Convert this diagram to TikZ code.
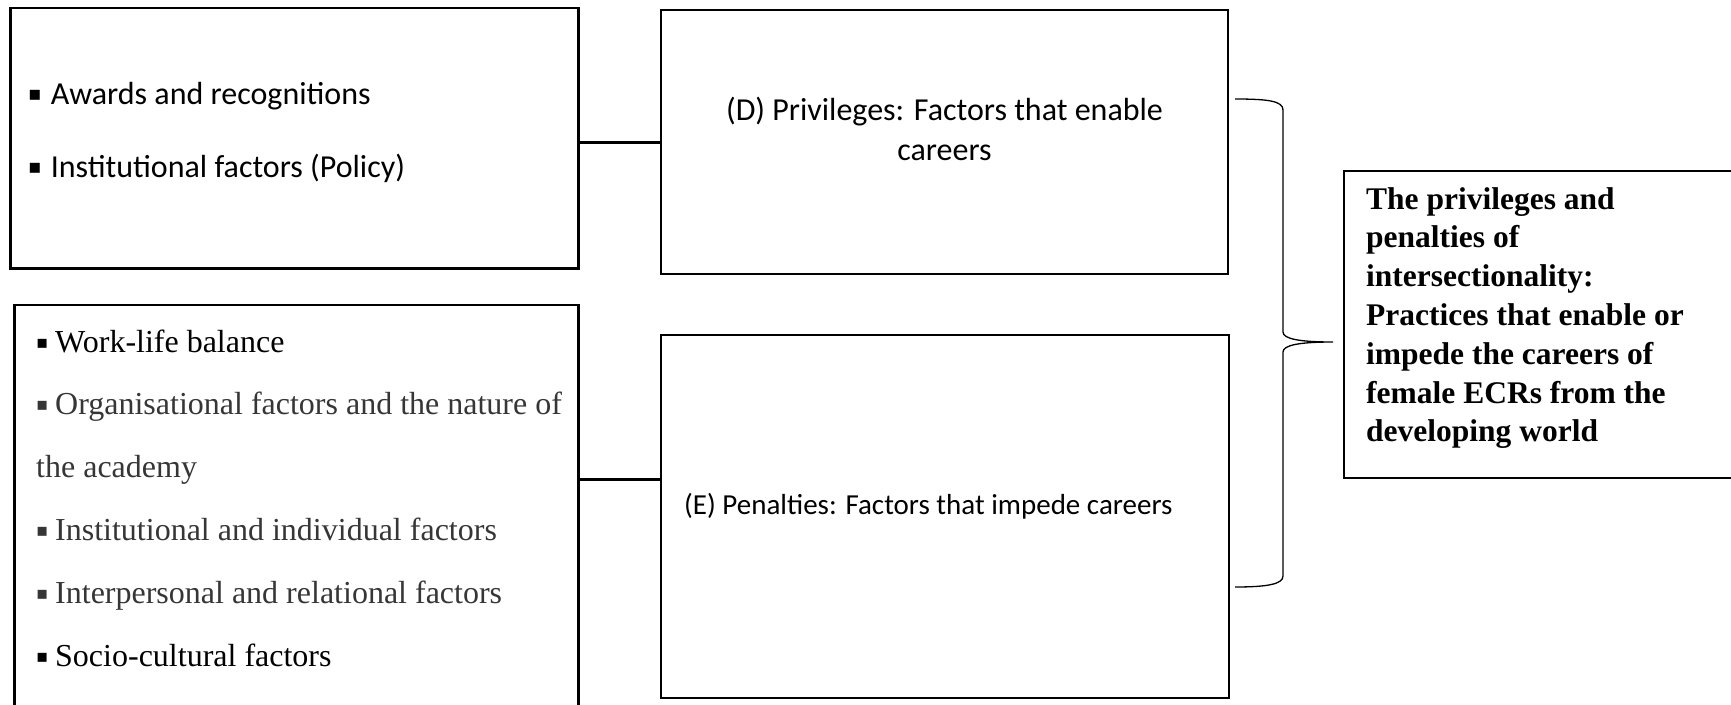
\documentclass[tikz,border=0pt]{standalone}
\usepackage{fontspec}
\setmainfont{Liberation Serif}
\newfontfamily\calfont{Carlito}
\newfontfamily\bulfont{DejaVu Sans}
\definecolor{txtgray}{HTML}{363636}
% square list marker: #1 = glyph size, #2 = room taken before the item text
\newcommand\sqbul[2]{\makebox[#2][l]{\raisebox{0.12em}{\bulfont\fontsize{#1}{#1}\selectfont ▪}}}

\begin{document}
\begin{tikzpicture}[x=1pt,y=-1pt,
  box/.style={draw, line width=2.4pt, rectangle, inner sep=0pt, outer sep=0pt},
  link/.style={line width=3pt},
  brace/.style={line width=1.3pt},
  txt/.style={anchor=base west, inner sep=0pt},
  ctxt/.style={anchor=base, inner sep=0pt},
  cal/.style={font=\calfont\fontsize{32}{39}\selectfont},
  calsm/.style={font=\calfont\fontsize{29}{35}\selectfont},
  tms/.style={font=\fontsize{32}{38}\selectfont},
  tmsbold/.style={font=\bfseries\fontsize{31.5}{38}\selectfont},
]
\useasboundingbox (0,0) rectangle (1731,704);
\clip (0,0) rectangle (1731,704);

% boxes
\node[box, minimum width=568pt, minimum height=260.5pt] (A) at (294.5,138.25) {};
\node[box, minimum width=567pt, minimum height=264pt]   (D) at (944.5,142) {};
\node[box, minimum width=564pt, minimum height=415pt]   (B) at (296.5,512.5) {};
\node[box, minimum width=568pt, minimum height=363pt]   (E) at (945,516.5) {};
\node[box, minimum width=416pt, minimum height=307pt]   (C) at (1552,324.5) {};

% connectors between the factor lists and the two categories
\draw[link] (A.east |- D.west) -- (D.west);
\coordinate (eIn) at (661,479);
\draw[link] (B.east |- eIn) -- (eIn);

% curly brace gathering both categories
\coordinate (brTop) at (1235,99);
\coordinate (brBot) at (1235,587);
\coordinate (brTip) at (1333,342);
\draw[brace] (brTop) .. controls (1268,99) and (1283,101) .. (1283,110)
  -- (1283,332) .. controls (1283,339) and (1300,342) .. (brTip)
  .. controls (1300,342) and (1283,345) .. (1283,352)
  -- (1283,576) .. controls (1283,584) and (1268,587) .. (brBot);

% enabling factors
\node[txt, cal] (a1) at (28,104.5) {\sqbul{20}{22.6pt}Awards and recognitions};
\node[txt, cal] (a2) at (28,177.5) {\sqbul{20}{22.6pt}Institutional factors (Policy)};

% category labels
\node[ctxt, cal] (d1) at (944.5,120.5) {(D) Privileges: Factors that enable};
\node[ctxt, cal] (d2) at (944.5,160.5) {careers};
\node[txt, calsm] (e1) at (684,514) {(E) Penalties: Factors that impede careers};

% impeding factors
\node[txt, tms] (b1) at (36,352) {\sqbul{18}{19pt}Work-life balance};
\node[txt, tms, text=txtgray] (b2) at (36,414.8) {\sqbul{18}{19pt}Organisational factors and the nature of};
\node[txt, tms, text=txtgray] (b3) at (36,477.6) {the academy};
\node[txt, tms, text=txtgray] (b4) at (36,540.4) {\sqbul{18}{19pt}Institutional and individual factors};
\node[txt, tms, text=txtgray] (b5) at (36,603.2) {\sqbul{18}{19pt}Interpersonal and relational factors};
\node[txt, tms] (b6) at (36,666) {\sqbul{18}{19pt}Socio-cultural factors};

% overall theme
\node[txt, tmsbold] (c1) at (1366,209) {The privileges and};
\node[txt, tmsbold] (c2) at (1366,247.8) {penalties of};
\node[txt, tmsbold] (c3) at (1366,286.6) {intersectionality:};
\node[txt, tmsbold] (c4) at (1366,325.4) {Practices that enable or};
\node[txt, tmsbold] (c5) at (1366,364.2) {impede the careers of};
\node[txt, tmsbold] (c6) at (1366,403) {female ECRs from the};
\node[txt, tmsbold] (c7) at (1366,441.8) {developing world};
\end{tikzpicture}
\end{document}
